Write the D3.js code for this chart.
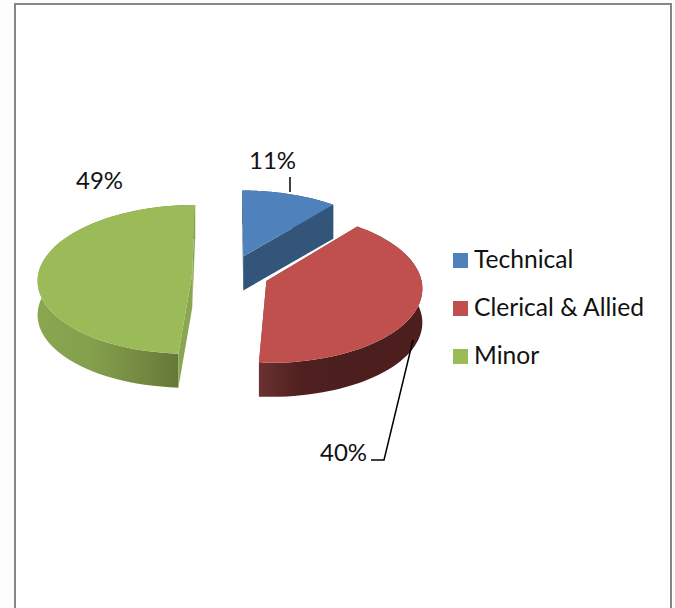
<!DOCTYPE html>
<html>
<head>
<meta charset="utf-8">
<script src="https://cdn.jsdelivr.net/npm/d3@7"></script>
<style>
  html, body { margin: 0; padding: 0; background: #fdfdfd; overflow: hidden; }
  svg { display: block; }
  text { font-family: Lato, "Open Sans", sans-serif; fill: #111; }
</style>
</head>
<body>
<div id="chart"></div>
<script>
  var categories = [ 'Technical', 'Clerical & Allied', 'Minor' ];
  var shares = [ 11, 40, 49 ];
  var shareLabels = [ '11%', '40%', '49%' ];
  var topColors = [ '#4f81bd', '#c0504d', '#9bbb59' ];
  var cutColors = [ '#335579', '#6a3230', '#8aa650' ];
  var sideStops = [
    [ '#335579', '#335579' ],
    [ '#6a3230', '#4f201f', '#4c1e1d', '#4c1e1d', '#4c1e1d' ],
    [ '#8aa650', '#84a04d', '#74893f', '#5d7035' ]
  ];

  var width = 675, height = 608;
  var cx = 230.5, cy = 274, rx = 154, ry = 74, depth = 34;
  var explodeX = 38.3, explodeY = 19, persp = 0.081;

  var svg = d3.select( '#chart' ).append( 'svg' )
    .attr( 'width', width )
    .attr( 'height', height );

  svg.append( 'rect' )
    .attr( 'x', 15 ).attr( 'y', 4 )
    .attr( 'width', 656 ).attr( 'height', 640 )
    .attr( 'fill', '#fff' )
    .attr( 'stroke', '#868686' )
    .attr( 'stroke-width', 2 );

  var defs = svg.append( 'defs' );

  var arcs = d3.pie().sort( null )( shares );

  var line = d3.line();

  // ground plane to screen, things further back shrink toward the middle
  function project( ex, ey, u, v, drop ) {
    var depthPos = v + ey / ry, s = 1 / ( 1 + persp * depthPos );
    return [ cx + ( ex + rx * u ) * s, cy - ( ey + ry * v ) * s + ( drop || 0 ) ];
  }

  function rimPoint( d, a, drop ) {
    return project( d.ex, d.ey, Math.sin( a ), Math.cos( a ), drop );
  }

  function rim( d, drop ) {
    return d3.range( 0, 61 ).map( i =>
      rimPoint( d, d.arc.startAngle + ( d.arc.endAngle - d.arc.startAngle ) * i / 60, drop ) );
  }

  var slices = arcs.map( ( arc, i ) => {
    var mid = ( arc.startAngle + arc.endAngle ) / 2;
    return {
      i: i,
      arc: arc,
      ex: explodeX * Math.sin( mid ),
      ey: explodeY * Math.cos( mid )
    };
  } );

  slices.forEach( d => {
    d.center = project( d.ex, d.ey, 0, 0, 0 );
    var xs = d3.extent( rim( d, 0 ), p => p[ 0 ] );
    // side gets darker toward the front of the pie, left to right
    var grad = defs.append( 'linearGradient' )
      .attr( 'id', 'side' + d.i )
      .attr( 'gradientUnits', 'userSpaceOnUse' )
      .attr( 'x1', xs[ 0 ] ).attr( 'x2', xs[ 1 ] )
      .attr( 'y1', 0 ).attr( 'y2', 0 );
    var stops = sideStops[ d.i ];
    stops.forEach( ( c, j ) => {
      grad.append( 'stop' )
        .attr( 'offset', j / ( stops.length - 1 ) )
        .attr( 'stop-color', c );
    } );
  } );

  function cutFace( d, a ) {
    var c = d.center, p = rimPoint( d, a, 0 );
    return line( [ c, p, [ p[ 0 ], p[ 1 ] + depth ], [ c[ 0 ], c[ 1 ] + depth ] ] ) + 'Z';
  }

  var g = svg.selectAll( '.slice' )
    .data( slices )
    .enter()
    .append( 'g' )
      .attr( 'class', 'slice' );

  // outer side wall
  g.append( 'path' )
    .attr( 'fill', d => 'url(#side' + d.i + ')' )
    .attr( 'd', d => line( rim( d, 0 ).concat( rim( d, depth ).reverse() ) ) + 'Z' );

  // cut faces
  g.selectAll( '.cut' )
    .data( d => [ d.arc.startAngle, d.arc.endAngle ].map( a => ( { d: d, a: a } ) ) )
    .enter()
    .append( 'path' )
      .attr( 'class', 'cut' )
      .attr( 'fill', e => cutColors[ e.d.i ] )
      .attr( 'd', e => cutFace( e.d, e.a ) );

  // top surface
  g.append( 'path' )
    .attr( 'fill', d => topColors[ d.i ] )
    .attr( 'd', d => line( [ d.center ].concat( rim( d, 0 ) ) ) + 'Z' );

  // leader lines
  var leaders = [
    [ [ 290, 177 ], [ 290, 192 ] ],
    [ [ 413, 340 ], [ 384, 460 ], [ 371, 460 ] ]
  ];
  svg.selectAll( '.leader' )
    .data( leaders )
    .enter()
    .append( 'path' )
      .attr( 'class', 'leader' )
      .attr( 'fill', 'none' )
      .attr( 'stroke', '#000' )
      .attr( 'stroke-width', 1.5 )
      .attr( 'd', d => line( d ) );

  // data labels
  var labelPos = [ [ 249, 169 ], [ 320, 461 ], [ 76, 189 ] ];
  svg.selectAll( '.pct' )
    .data( shareLabels )
    .enter()
    .append( 'text' )
      .attr( 'class', 'pct' )
      .attr( 'x', ( d, i ) => labelPos[ i ][ 0 ] )
      .attr( 'y', ( d, i ) => labelPos[ i ][ 1 ] )
      .attr( 'font-size', 24 )
      .text( d => d );

  // legend
  var legendY = d3.scalePoint().domain( categories ).range( [ 253, 349 ] );
  var legend = svg.selectAll( '.legend' )
    .data( categories )
    .enter()
    .append( 'g' )
      .attr( 'class', 'legend' )
      .attr( 'transform', d => 'translate(453,' + legendY( d ) + ')' );

  legend.append( 'rect' )
    .attr( 'width', 15 )
    .attr( 'height', 15 )
    .attr( 'fill', ( d, i ) => topColors[ i ] );

  legend.append( 'text' )
    .attr( 'x', 21 )
    .attr( 'y', 15 )
    .attr( 'font-size', 24.6 )
    .text( d => d );
</script>
</body>
</html>
